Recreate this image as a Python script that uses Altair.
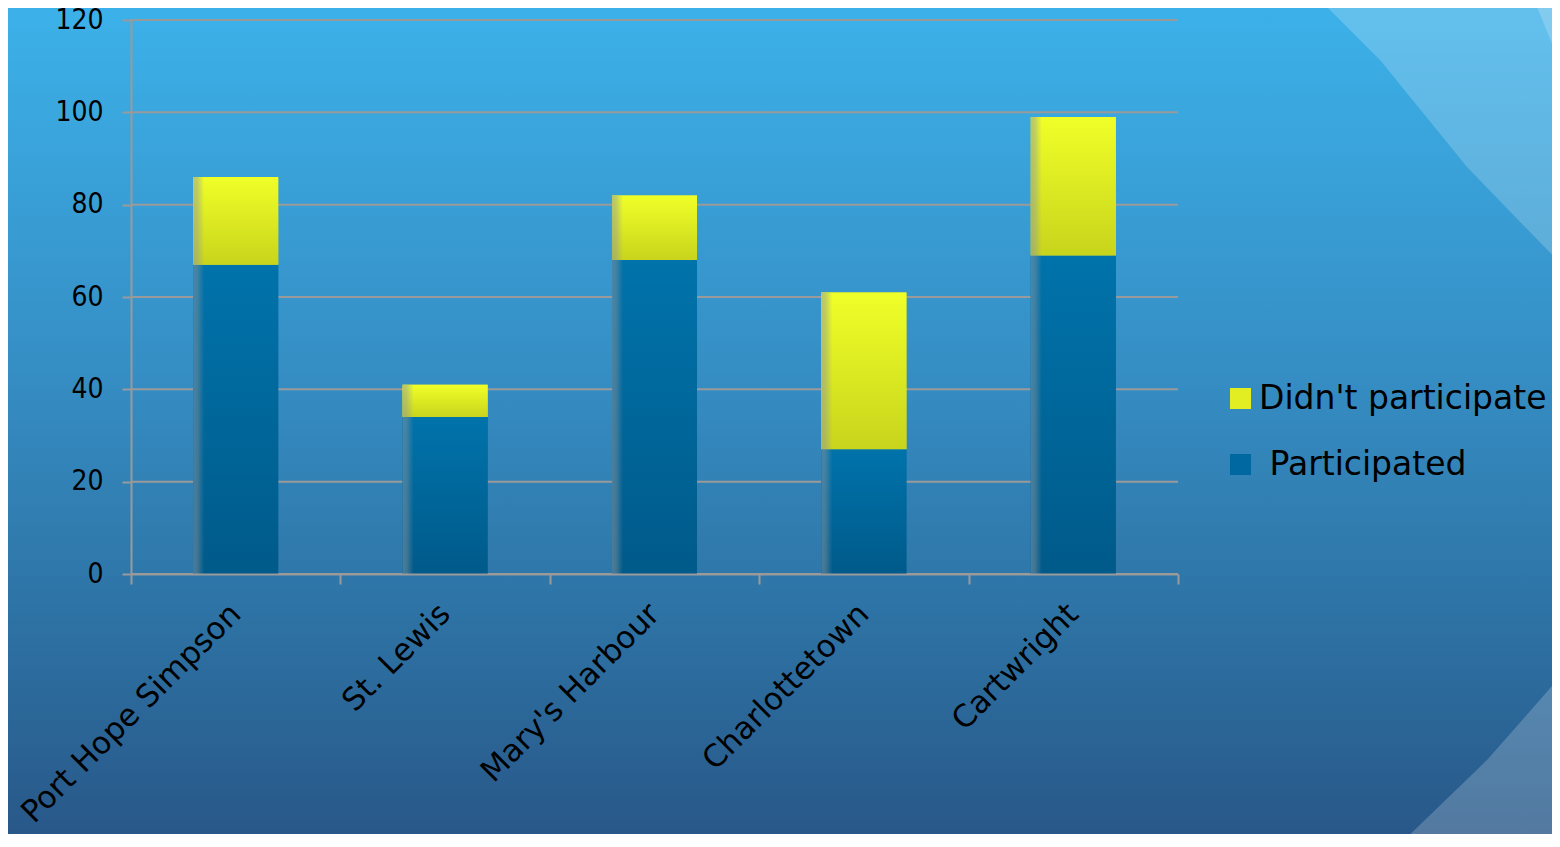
import altair as alt
import pandas as pd

# ---- data ----
towns = ["Port Hope Simpson", "St. Lewis", "Mary's Harbour", "Charlottetown", "Cartwright"]
participated = [67, 34, 68, 27, 69]
didnt_participate = [19, 7, 14, 34, 30]
series = ["Didn't participate", "Participated"]
series_colors = ["#e2ee22", "#0068a0"]
y_ticks = [0, 20, 40, 60, 80, 100, 120]

df = pd.DataFrame({"town": towns, "participated": participated, "didnt": didnt_participate})
long_df = pd.DataFrame({
    "town": towns + towns,
    "series": [series[1]] * len(towns) + [series[0]] * len(towns),
    "value": participated + didnt_participate,
    "ord": [0] * len(towns) + [1] * len(towns),
})
grid_df = pd.DataFrame({"v": y_ticks})
one = pd.DataFrame({"a": [0]})

W, H = 1047, 554
PL, PT = 123, 12
TOTW, TOTH = 1544, 826

GRAY = "#9a9a9a"
BAR_FRAC = 0.406


def grad(stops, horizontal=False):
    return alt.LinearGradient(
        gradient="linear",
        x1=0, y1=0,
        x2=1 if horizontal else 0,
        y2=0 if horizontal else 1,
        stops=[alt.GradientStop(offset=o, color=c) for o, c in stops],
    )


bg_grad = grad([(0, "#3cb1e9"), (0.45, "#358dc3"), (0.72, "#2e74a6"), (1, "#285889")])
blue_grad = grad([(0, "#0073ab"), (1, "#005a8a")])
yellow_grad = grad([(0, "#f0ff28"), (1, "#c8d41c")])
edge_grad = grad([(0, "rgba(140,150,160,0.55)"), (0.05, "rgba(140,150,160,0.45)"), (0.13, "rgba(140,150,160,0)"), (1, "rgba(140,150,160,0)")], horizontal=True)

y_scale = alt.Scale(domain=[0, 120], nice=False)
y_axis = alt.Axis(
    values=y_ticks, title=None, grid=False, zindex=1,
    labelFont="DejaVu Sans Condensed", labelFontSize=28, labelColor="black",
    labelPadding=19, tickSize=9, tickColor=GRAY, tickWidth=2,
    domainColor=GRAY, domainWidth=2,
)
x_axis = alt.Axis(
    title=None, grid=False, zindex=1,
    labelAngle=-45, labelAlign="right", labelBaseline="middle",
    labelFont="DejaVu Sans", labelFontSize=31, labelColor="black", labelLimit=0,
    labelPadding=25, tickBand="extent", tickSize=10, tickColor=GRAY, tickWidth=2,
    domainColor=GRAY, domainWidth=2,
)
x_enc = alt.X("town:N", sort=towns, scale=alt.Scale(paddingInner=0, paddingOuter=0), axis=x_axis)

background = alt.Chart(one).mark_rect(fill=bg_grad).encode(
    x=alt.value(-PL), x2=alt.value(TOTW - PL), y=alt.value(-PT), y2=alt.value(TOTH - PT)
)


def deco(path, op):
    return alt.Chart(one).mark_point(
        shape=path, size=4, filled=True, color="white", opacity=op, strokeWidth=0
    ).encode(x=alt.value(0), y=alt.value(0))


deco1 = deco("M 1169 -40 L 1249 40 L 1336 147 L 1429 243 L 1450 265 L 1450 -40 Z", 0.2)
deco2 = deco("M 1395 -40 L 1429 43 L 1450 90 L 1450 -40 Z", 0.2)
deco3 = deco("M 1460 620 L 1429 657 L 1356 740 L 1266 827 L 1250 845 L 1460 845 Z", 0.2)

grid = alt.Chart(grid_df).mark_rule(color=GRAY, strokeWidth=2).encode(
    y=alt.Y("v:Q", scale=y_scale, axis=y_axis)
)

legend_layer = alt.Chart(long_df).mark_bar(width=alt.RelativeBandSize(BAR_FRAC)).encode(
    x=x_enc,
    y=alt.Y("value:Q", stack="zero", scale=y_scale, axis=y_axis),
    color=alt.Color(
        "series:N",
        scale=alt.Scale(domain=series, range=series_colors),
        legend=alt.Legend(
            title=None, orient="none", legendX=1093, legendY=362,
            symbolType="square", symbolSize=441, symbolStrokeWidth=0,
            labelFont="DejaVu Sans", labelFontSize=33, labelColor="black",
            labelOffset=2, rowPadding=32, labelLimit=400,
            labelExpr="datum.label == 'Participated' ? '\u200b\u00a0Participated' : datum.label",
        ),
    ),
    order=alt.Order("ord:Q"),
)

blue = alt.Chart(df).mark_bar(fill=blue_grad, width=alt.RelativeBandSize(BAR_FRAC)).encode(
    x=x_enc, y=alt.Y("participated:Q", scale=y_scale, axis=y_axis)
)
yellow = alt.Chart(df).transform_calculate(total="datum.participated + datum.didnt").mark_bar(
    fill=yellow_grad, width=alt.RelativeBandSize(BAR_FRAC)
).encode(x=x_enc, y=alt.Y("participated:Q", scale=y_scale, axis=y_axis), y2="total:Q")
edge = alt.Chart(df).transform_calculate(total="datum.participated + datum.didnt").mark_bar(
    fill=edge_grad, width=alt.RelativeBandSize(BAR_FRAC)
).encode(x=x_enc, y=alt.Y("total:Q", scale=y_scale, axis=y_axis))

chart = alt.layer(background, deco1, deco2, deco3, grid, legend_layer, blue, yellow, edge).properties(
    width=W, height=H,
    autosize=alt.AutoSizeParams(type="none"),
    padding={"left": PL, "top": PT, "right": TOTW - PL - W, "bottom": TOTH - PT - H},
).configure_view(stroke=None)

chart.save("out.html", embed_options={"renderer": "svg", "actions": False})
